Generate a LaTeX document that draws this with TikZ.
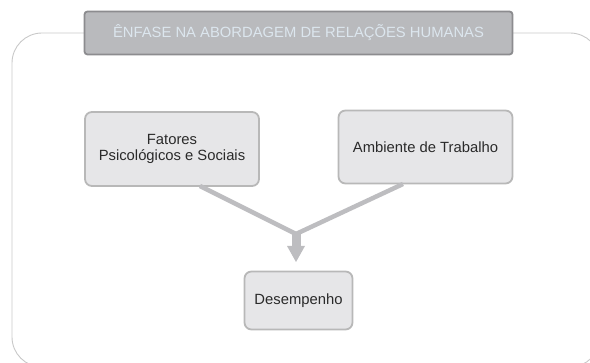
\documentclass[tikz,border=0pt]{standalone}
\usepackage{fontspec}
\setmainfont{Liberation Sans}
\usetikzlibrary{arrows.meta}
\definecolor{framec}{HTML}{C8C8C8}
\definecolor{titlefill}{HTML}{B9BABD}
\definecolor{titledraw}{HTML}{8C8C8F}
\definecolor{titletext}{HTML}{DCE6EE}
\definecolor{boxfill}{HTML}{E6E6E8}
\definecolor{boxdraw}{HTML}{B8B8B8}
\definecolor{linec}{HTML}{BDBDC0}
\definecolor{textc}{HTML}{2A2A2A}
\tikzset{
  box/.style={draw=boxdraw, line width=1.8pt, fill=boxfill, rounded corners=7pt,
    text=textc, align=center, font=\fontsize{14.8}{16.5}\selectfont, inner sep=0pt},
  conn/.style={draw=linec, line width=4.5pt},
}
\begin{document}
\begin{tikzpicture}[x=1pt,y=-1pt]
\useasboundingbox (0,0) rectangle (590,363);
\clip (0,0) rectangle (590,363);
% outer frame
\draw[framec, line width=0.9pt, rounded corners=30pt] (12,33) rectangle (600,367);
% title
\node[draw=titledraw, line width=1.8pt, fill=titlefill, rounded corners=3pt,
  minimum width=428pt, minimum height=43pt, text=titletext,
  font=\fontsize{14.8}{17}\selectfont, inner sep=0pt] (title) at (298.5,33)
  {ÊNFASE NA ABORDAGEM DE RELAÇÕES HUMANAS};
% boxes
\node[box, minimum width=174pt, minimum height=74pt] (fat) at (172,149)
  {Fatores\\Psicológicos e Sociais};
\node[box, minimum width=174pt, minimum height=73pt] (amb) at (425.5,147)
  {Ambiente de Trabalho};
\node[box, minimum width=108pt, minimum height=58pt] (des) at (298.5,300.5)
  {Desempenho};
% connectors
\coordinate (m) at (296,234);
\draw[conn] (200,186) -- (m);
\draw[conn] (403,184) -- (m);
\draw[linec, line width=9pt] (m) -- (296,247);
\fill[linec] (287,246) -- (305,246) -- (296,262) -- cycle;
\end{tikzpicture}
\end{document}
